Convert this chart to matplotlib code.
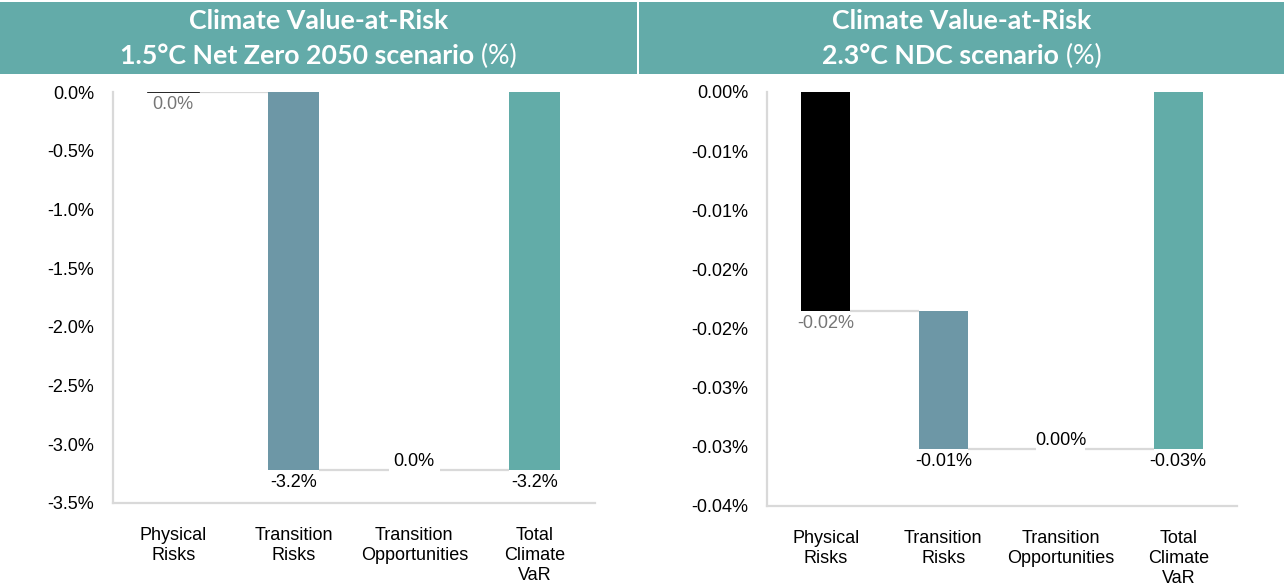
import matplotlib
matplotlib.use("Agg")
import matplotlib.pyplot as plt
from matplotlib.patches import Rectangle

# ---- data ----
categories = ["Physical\nRisks", "Transition\nRisks", "Transition\nOpportunities", "Total\nClimate\nVaR"]

nz_steps = [0.0, -3.22, 0.0]          # physical, transition, opportunities (%)
nz_total = -3.22
nz_labels = ["0.0%", "-3.2%", "0.0%", "-3.2%"]
nz_ticks = [0.0, -0.5, -1.0, -1.5, -2.0, -2.5, -3.0, -3.5]
nz_ticklabels = ["0.0%", "-0.5%", "-1.0%", "-1.5%", "-2.0%", "-2.5%", "-3.0%", "-3.5%"]

ndc_steps = [-0.0185, -0.0117, 0.0]
ndc_total = -0.0302
ndc_labels = ["-0.02%", "-0.01%", "0.00%", "-0.03%"]
ndc_ticks = [0.0, -0.005, -0.010, -0.015, -0.020, -0.025, -0.030, -0.035]
ndc_ticklabels = ["0.00%", "-0.01%", "-0.01%", "-0.02%", "-0.02%", "-0.03%", "-0.03%", "-0.04%"]

titles = [("Climate Value-at-Risk", "1.5°C Net Zero 2050 scenario"),
          ("Climate Value-at-Risk", "2.3°C NDC scenario")]

TEAL = "#63ABA9"
BAR_COLORS = ["#000000", "#6D97A6", "#FFFFFF", "#62ACA8"]
LABEL_COLORS = ["#767676", "#000000", "#000000", "#000000"]
GRID = "#D9D9D9"
FS = 13

plt.rcParams["font.family"] = ["Liberation Sans", "DejaVu Sans"]

fig = plt.figure(figsize=(12.84, 5.85), dpi=100)


def waterfall(ax, steps, total, labels, ticks, ticklabels):
    vals = list(steps) + [total]
    bottoms, tops = [], []
    run = 0.0
    for v in steps:
        bottoms.append(run)
        run += v
        tops.append(run)
    bottoms.append(0.0)
    tops.append(total)
    w = 0.42
    xs = range(len(vals))
    for i in xs:
        h = tops[i] - bottoms[i]
        if abs(h) < 1e-12:
            if i == 0:
                ax.plot([i - w / 2, i + w / 2], [tops[i]] * 2, color=BAR_COLORS[i], lw=1.2, zorder=3)
        else:
            ax.bar(i, h, bottom=bottoms[i], width=w, color=BAR_COLORS[i], zorder=3)
    # connectors
    for i in range(len(vals) - 1):
        y = tops[i]
        ax.plot([i + w / 2, i + 1 - w / 2], [y, y], color=GRID, lw=1.6, zorder=2,
                solid_capstyle="butt")
    # labels
    for i in xs:
        if i == 2:
            ax.annotate(labels[i], (i, tops[i]), xytext=(0, 0), textcoords="offset points",
                        ha="center", va="bottom", fontsize=FS, color=LABEL_COLORS[i])
        else:
            ax.annotate(labels[i], (i, tops[i]), xytext=(0, -3), textcoords="offset points",
                        ha="center", va="top", fontsize=FS, color=LABEL_COLORS[i])
    ax.set_xlim(-0.5, len(vals) - 0.5)
    ax.set_ylim(ticks[-1], 0)
    ax.set_yticks(ticks)
    ax.set_yticklabels(ticklabels)
    ax.set_xticks(list(xs))
    ax.set_xticklabels(categories, linespacing=1.2)
    ax.tick_params(axis="y", length=0, pad=13.5, labelsize=FS)
    ax.tick_params(axis="x", length=0, pad=17.5, labelsize=FS)
    for s in ["top", "right"]:
        ax.spines[s].set_visible(False)
    for s in ["left", "bottom"]:
        ax.spines[s].set_color(GRID)
        ax.spines[s].set_linewidth(1.6)


ax1 = fig.add_axes([113 / 1284, 82 / 585, 482 / 1284, 411 / 585])
waterfall(ax1, nz_steps, nz_total, nz_labels, nz_ticks, nz_ticklabels)
ax2 = fig.add_axes([767 / 1284, 79 / 585, 470 / 1284, 414 / 585])
waterfall(ax2, ndc_steps, ndc_total, ndc_labels, ndc_ticks, ndc_ticklabels)

# header bands
hb, hh = (585 - 74) / 585, 72 / 585
fig.add_artist(Rectangle((0, hb), 637 / 1284, hh, transform=fig.transFigure, color=TEAL, lw=0))
fig.add_artist(Rectangle((639 / 1284, hb), 1 - 639 / 1284, hh, transform=fig.transFigure,
                         color=TEAL, lw=0))

renderer = fig.canvas.get_renderer()
hfont = ["Lato", "DejaVu Sans"]
HFS = 19.3
for cx, (l1, l2) in zip([318.5 / 1284, 961.5 / 1284], titles):
    fig.text(cx, 1 - 21 / 585, l1, ha="center", va="center", fontsize=HFS, fontweight="bold",
             color="white", family=hfont)
    tb = fig.text(0, 1 - 56 / 585, l2, ha="left", va="center", fontsize=HFS,
                  fontweight="bold", color="white", family=hfont)
    tn = fig.text(0, 1 - 56 / 585, " (%)", ha="left", va="center", fontsize=HFS,
                  color="white", family=hfont)
    wb = tb.get_window_extent(renderer).width / 1284
    wn = tn.get_window_extent(renderer).width / 1284
    x0 = cx - (wb + wn) / 2
    tb.set_x(x0)
    tn.set_x(x0 + wb)

fig.savefig("out.png", dpi=100)
